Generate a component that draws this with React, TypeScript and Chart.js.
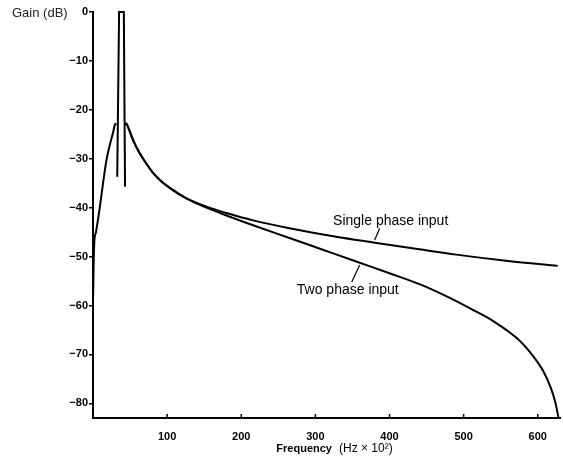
import React, { useEffect, useRef } from "react";
import { Chart, registerables } from "chart.js";

Chart.register(...registerables);

// Low-frequency rising branch (shared by both inputs)
const leftFreq = [0.2, 0.8, 1.8, 4, 9.4, 14, 18.5, 23, 27, 29.6, 31.5];
const leftGain = [-58, -52, -47, -45, -39.7, -34.5, -30, -27, -24.7, -23, -22.8];

// Narrow resonance spike
const spikeFreq = [32.7, 35.2, 41.6, 43.2];
const spikeGain = [-33.7, 0, 0, -35.7];

// Decaying branch, single phase input
const singleFreq = [43.3, 45, 48, 55, 63, 72, 81, 92, 104, 126, 153, 180, 216, 265, 330, 378, 440, 490, 560, 627];
const singleGain = [-23, -22.8, -23.8, -26.5, -28.9, -31, -32.9, -34.6, -36, -38.1, -39.8, -41.1, -42.6, -44.2, -46.0, -47.1, -48.5, -49.6, -50.9, -51.9];

// Decaying branch, two phase input
const twoFreq = [43.3, 45, 48, 55, 63, 72, 81, 92, 104, 126, 153, 180, 216, 265, 310, 355, 400, 443, 475, 510, 540, 575, 595, 607, 618, 624, 628];
const twoGain = [-23, -22.8, -23.8, -26.5, -28.9, -31, -32.9, -34.6, -36, -38.1, -40.0, -41.6, -43.6, -46.2, -48.6, -51.0, -53.4, -55.8, -58.0, -60.7, -63.2, -67.1, -70.6, -73.3, -77, -80, -83];

const xTicks = [100, 200, 300, 400, 500, 600];
const yTicks = [0, -10, -20, -30, -40, -50, -60, -70, -80];

const labelTexts = ["Single phase input", "Two phase input"];
const labelAnchors = [
  { text: [401.6, -42.7], from: [386.8, -44.2], to: [380, -46.6] },
  { text: [343.7, -56.9], from: [359.8, -51.7], to: [349, -55.2] },
];

const toPts = (xs: number[], ys: number[]) => xs.map((x, i) => ({ x, y: ys[i] }));

const overlay = {
  id: "overlay",
  afterDraw(chart: any) {
    const { ctx, chartArea, scales } = chart;
    const x = scales.x;
    const y = scales.y;
    ctx.save();
    ctx.strokeStyle = "#000";
    ctx.fillStyle = "#000";
    // inward x tick marks
    ctx.lineWidth = 1.5;
    xTicks.forEach((v) => {
      const px = x.getPixelForValue(v);
      ctx.beginPath();
      ctx.moveTo(px, chartArea.bottom);
      ctx.lineTo(px, chartArea.bottom - 4);
      ctx.stroke();
    });
    // annotations
    ctx.font = '14px "Liberation Sans"';
    ctx.textAlign = "center";
    ctx.textBaseline = "middle";
    labelAnchors.forEach((a, i) => {
      ctx.fillText(labelTexts[i], x.getPixelForValue(a.text[0]), y.getPixelForValue(a.text[1]));
      ctx.lineWidth = 1.2;
      ctx.beginPath();
      ctx.moveTo(x.getPixelForValue(a.from[0]), y.getPixelForValue(a.from[1]));
      ctx.lineTo(x.getPixelForValue(a.to[0]), y.getPixelForValue(a.to[1]));
      ctx.stroke();
    });
    // y title
    ctx.font = '13px "Liberation Sans"';
    ctx.textAlign = "left";
    ctx.fillStyle = "#222";
    ctx.fillText("Gain (dB)", 12, y.getPixelForValue(0) + 1);
    // x title
    ctx.fillStyle = "#000";
    const cx = (chartArea.left + chartArea.right) / 2 + 8;
    const ty = chartArea.bottom + 31;
    ctx.font = 'bold 11px "Liberation Sans"';
    const w1 = ctx.measureText("Frequency").width;
    ctx.font = '12px "Liberation Sans"';
    const part2 = "(Hz \u00d7 10\u00b2)";
    const w2 = ctx.measureText(part2).width;
    const gap = 7;
    const start = cx - (w1 + gap + w2) / 2;
    ctx.font = 'bold 11px "Liberation Sans"';
    ctx.fillText("Frequency", start, ty);
    ctx.font = '12px "Liberation Sans"';
    ctx.fillText(part2, start + w1 + gap, ty);
    ctx.restore();
  },
};

export default function App() {
  const ref = useRef<HTMLCanvasElement | null>(null);
  useEffect(() => {
    if (!ref.current) return;
    const line = { borderColor: "#000", borderWidth: 2, pointRadius: 0, fill: false, showLine: true, clip: false as any };
    const chart = new Chart(ref.current, {
      type: "scatter",
      data: {
        datasets: [
          { ...line, label: "low", data: toPts(leftFreq, leftGain), cubicInterpolationMode: "monotone" },
          { ...line, label: "spike", data: toPts(spikeFreq, spikeGain), tension: 0 },
          { ...line, label: "Single phase input", data: toPts(singleFreq, singleGain), cubicInterpolationMode: "monotone" },
          { ...line, label: "Two phase input", data: toPts(twoFreq, twoGain), cubicInterpolationMode: "monotone" },
        ] as any,
      },
      options: {
        responsive: false,
        animation: false,
        layout: { padding: { top: 12, right: 3, left: 0, bottom: 0 } },
        plugins: { legend: { display: false }, tooltip: { enabled: false }, title: { display: false } },
        scales: {
          x: {
            type: "linear",
            min: 0,
            max: 630,
            afterFit: (s: any) => { s.height = 48; },
            afterBuildTicks: (s: any) => { s.ticks = xTicks.map((v) => ({ value: v })); },
            grid: { display: false },
            border: { display: true, color: "#000", width: 2 },
            ticks: { color: "#000", padding: 4, font: { family: "Liberation Sans", size: 11, weight: "bold" } },
          },
          y: {
            type: "linear",
            min: -83,
            max: 0,
            afterFit: (s: any) => { s.width = 93; },
            afterBuildTicks: (s: any) => { s.ticks = yTicks.map((v) => ({ value: v })); },
            grid: { display: true, drawOnChartArea: false, drawTicks: true, tickLength: 4, color: "#000", lineWidth: 1.5 },
            border: { display: true, color: "#000", width: 2 },
            ticks: {
              color: "#000",
              padding: 1,
              font: { family: "Liberation Sans", size: 11, weight: "bold" },
              callback: (v: any) => (v === 0 ? "0" : "\u2212" + Math.abs(v)),
            },
          },
        },
      } as any,
      plugins: [overlay],
    });
    return () => chart.destroy();
  }, []);
  return (
    <div style={{ position: "fixed", left: 0, top: 0, width: 563, height: 466, background: "#fff" }}>
      <canvas ref={ref} width={563} height={466} style={{ width: 563, height: 466, display: "block" }} />
    </div>
  );
}
